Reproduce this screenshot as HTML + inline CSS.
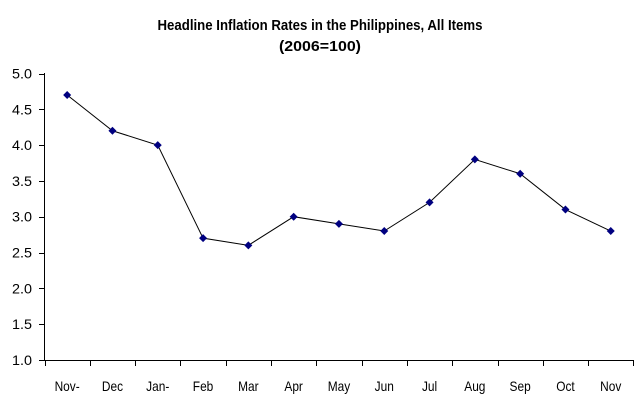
<!DOCTYPE html>
<html><head><style>body{margin:0;background:#fff}</style></head><body>
<svg width="640" height="402" xmlns="http://www.w3.org/2000/svg" font-family="Liberation Sans, sans-serif">
<text x="320" y="30" text-anchor="middle" font-size="15" font-weight="bold" textLength="325" lengthAdjust="spacingAndGlyphs">Headline Inflation Rates in the Philippines, All Items</text>
<text x="320" y="51" text-anchor="middle" font-size="15" font-weight="bold" textLength="82" lengthAdjust="spacingAndGlyphs">(2006=100)</text>
<g stroke="#000" stroke-width="1">
<line x1="44.5" y1="73" x2="44.5" y2="360"/>
<line x1="44" y1="360.5" x2="633" y2="360.5"/>
</g>
<g id="yt" font-size="14" text-anchor="end" fill="#000"></g>
<g id="xt" font-size="14" text-anchor="middle" fill="#000"></g>
<g id="s"></g>
<script>
var ns="http://www.w3.org/2000/svg";
function el(t,a,p,txt){var e=document.createElementNS(ns,t);for(var k in a)e.setAttribute(k,a[k]);if(txt)e.textContent=txt;document.getElementById(p).appendChild(e);return e;}
function Y(v){return 73.5+(5-v)*71.6;}
for(var v=1;v<=5.001;v+=0.5){var y=Y(v);el('line',{x1:39,x2:45,y1:Math.round(y)+0.5,y2:Math.round(y)+0.5,stroke:'#000'},'yt');el('text',{x:32,y:y+5,textLength:20,lengthAdjust:'spacingAndGlyphs'},'yt',v.toFixed(1));}
var lab=["Nov-","Dec","Jan-","Feb","Mar","Apr","May","Jun","Jul","Aug","Sep","Oct","Nov"];
var d=[4.7,4.2,4.0,2.7,2.6,3.0,2.9,2.8,3.2,3.8,3.6,3.1,2.8];
var w=45.3,pts=[];
for(var i=0;i<=13;i++){var x=Math.round(44.5+i*w)+0.5;el('line',{x1:x,x2:x,y1:360,y2:366,stroke:'#000'},'xt');}
for(var i=0;i<13;i++){var x=44.5+(i+0.5)*w;var t=el('text',{x:x,y:391},'xt',lab[i]);var L=t.getComputedTextLength?t.getComputedTextLength():0;if(L)t.setAttribute('textLength',L*0.85),t.setAttribute('lengthAdjust','spacingAndGlyphs');pts.push(x+','+Y(d[i]));}
el('polyline',{points:pts.join(' '),fill:'none',stroke:'#000','stroke-width':1},'s');
for(var i=0;i<13;i++){var x=44.5+(i+0.5)*w,y=Y(d[i]);el('polygon',{points:(x-4)+','+y+' '+x+','+(y-4)+' '+(x+4)+','+y+' '+x+','+(y+4),fill:'#000080'},'s');}
</script>
</svg>
</body></html>
